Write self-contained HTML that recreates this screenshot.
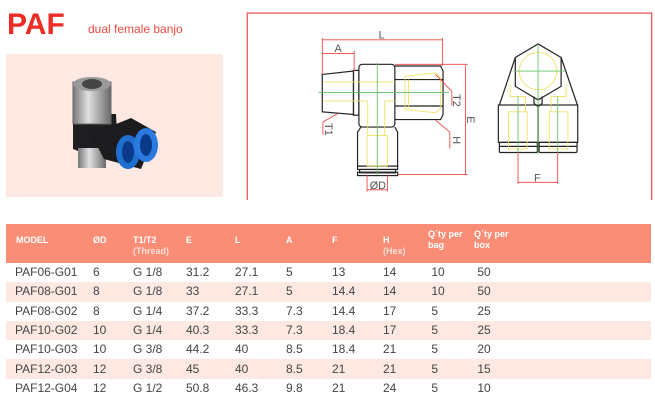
<!DOCTYPE html>
<html><head><meta charset="utf-8"><style>
body{margin:0;width:655px;height:412px;background:#fff;position:relative;overflow:hidden;font-family:"Liberation Sans",sans-serif}
.t{position:absolute;left:7px;top:10px;font-size:30px;line-height:1;font-weight:bold;color:#ee2b24}
.s{position:absolute;left:88px;top:23px;font-size:12px;line-height:1;color:#ee4a40}
.photo{position:absolute;left:6px;top:54px;width:217px;height:143px;background:#fde8e2}
table{position:absolute;left:6px;top:224px;width:645px;border-collapse:collapse;table-layout:fixed}
th{background:#f98d76;color:#fff;font-size:9px;font-weight:bold;text-align:left;vertical-align:top;padding:11px 0 0 0;height:28px;line-height:11px}
th span{color:#fde0d8;font-weight:bold}
td{font-size:12px;color:#444;height:19.3px;padding:0;line-height:19px}
tr.z td{background:#fde8e2}
</style></head><body>
<div class="t">PAF</div><div class="s">dual female banjo</div>
<div class="photo">
<svg width="217" height="143" viewBox="0 0 217 143">
<defs><linearGradient id="m" x1="0" x2="1"><stop offset="0" stop-color="#777"/><stop offset=".4" stop-color="#e0e0e0"/><stop offset="1" stop-color="#6a6a6a"/></linearGradient></defs>
<path d="M67 60 L110 60 L112 100 L80 100 L67 95Z" fill="#1e1e22"/>
<rect x="72" y="94" width="28" height="20" fill="url(#m)"/>
<path d="M67 28 L105 28 L105 70 L67 70Z" fill="url(#m)" stroke="#666"/>
<ellipse cx="86" cy="30" rx="19" ry="7" fill="#9a9a9a"/>
<ellipse cx="86" cy="30" rx="10" ry="5" fill="#444"/>
<path d="M85 80 L125 64 L150 78 L135 115 L98 105Z" fill="#1c1c1e"/>
<ellipse cx="122" cy="98" rx="12" ry="17" fill="#1f6fd0"/>
<ellipse cx="122" cy="98" rx="6" ry="11" fill="#0a3b8a"/>
<ellipse cx="140" cy="91" rx="12" ry="17" fill="#2a7ae0"/>
<ellipse cx="140" cy="91" rx="6" ry="11" fill="#0a3b8a"/>
</svg></div>
<svg style="position:absolute;left:245px;top:10px" width="410" height="190" viewBox="0 0 1205 560" fill="none" stroke-width="3.5">
<rect x="5" y="9" width="1192" height="557" stroke="#f06060" stroke-width="4"/>
<g stroke="#222">
<path d="M226 190 L318 180 L318 308 L226 300Z"/>
<rect x="318" y="178" width="16" height="132"/>
<rect x="334" y="160" width="106" height="185" rx="10"/>
<path d="M440 165 L575 165 L582 180 L582 308 L575 323 L440 323"/>
<line x1="440" y1="205" x2="582" y2="205"/><line x1="440" y1="283" x2="582" y2="283"/>
<path d="M340 345 L330 360 L330 460 L448 460 L448 360 L440 345"/>
<rect x="330" y="460" width="118" height="10"/><rect x="336" y="470" width="106" height="10"/><rect x="330" y="478" width="118" height="10"/>
<polygon points="862,100 930,140 930,225 862,265 795,225 795,140"/>
<path d="M795 140 L748 280 M930 140 L978 280"/>
<rect x="745" y="280" width="117" height="110"/><rect x="862" y="280" width="117" height="110"/>
<rect x="748" y="390" width="112" height="30" rx="4"/><rect x="865" y="390" width="112" height="30" rx="4"/>
<line x1="748" y1="402" x2="978" y2="402"/>
<path d="M850 255 L850 275 L862 285 L874 275 L874 255"/>
</g>
<g stroke="#f0e060" stroke-width="2.5">
<path d="M230 212 L440 212 M230 268 L360 268 L360 370 M440 268 L410 268 L410 370 M360 370 L418 370 L418 460 L358 460 L358 370"/>
<path d="M470 195 L560 185 L575 200 L575 290 L560 303 L470 293Z M480 205 L480 290"/>
<circle cx="862" cy="180" r="55"/>
<path d="M780 220 L780 255 L825 255 L825 300 M945 220 L945 255 L900 255 L900 300 M775 300 L830 300 L830 410 L775 410Z M895 300 L950 300 L950 410 L895 410Z"/>
</g>
<g stroke="#5fc060" stroke-width="2.5">
<line x1="215" y1="243" x2="600" y2="243"/><line x1="388" y1="155" x2="388" y2="485"/>
<line x1="862" y1="100" x2="862" y2="425"/><line x1="790" y1="180" x2="940" y2="180"/>
<line x1="803" y1="255" x2="803" y2="420"/><line x1="920" y1="255" x2="920" y2="420"/>
</g>
<g stroke="#f04040" stroke-width="2.5">
<path d="M226 82 L226 190 M580 82 L580 165 M226 88 L580 88 M226 128 L320 128 M320 120 L320 180"/>
<path d="M440 160 L655 160 M448 485 L655 485 M648 163 L648 485"/>
<path d="M358 485 L358 535 M418 485 L418 535 M358 530 L418 530"/>
<path d="M803 420 L803 512 M920 420 L920 512 M803 508 L920 508"/>
<path d="M272 305 L228 330 L228 368 M560 190 L608 240 L608 282 M560 325 L602 360 L602 408"/>
</g>
<g fill="#555" font-family="Liberation Sans" font-size="32">
<text x="392" y="84">L</text><text x="262" y="124">A</text>
<text x="366" y="528">ØD</text><text x="850" y="505">F</text>
<text transform="translate(612,248) rotate(90)">T2</text>
<text transform="translate(652,313) rotate(90)">E</text>
<text transform="translate(612,372) rotate(90)">H</text>
<text transform="translate(234,333) rotate(90)">T1</text>
</g>
</svg>
<table>
<colgroup><col style="width:87px"><col style="width:40px"><col style="width:53px"><col style="width:49px"><col style="width:51px"><col style="width:46px"><col style="width:51px"><col style="width:45px"><col style="width:46px"><col></colgroup>
<tr><th style="padding-left:10px">MODEL</th><th>ØD</th><th>T1/T2<br><span>(Thread)</span></th><th>E</th><th>L</th><th>A</th><th>F</th><th>H<br><span>(Hex)</span></th><th style="padding-top:5px">Q´ty per<br>bag</th><th style="padding-top:5px">Q´ty per<br>box</th></tr>
<tr><td style="padding-left:9px">PAF06-G01</td><td>6</td><td>G 1/8</td><td>31.2</td><td>27.1</td><td>5</td><td>13</td><td>14</td><td>&nbsp;10</td><td>&nbsp;50</td></tr>
<tr class="z"><td style="padding-left:9px">PAF08-G01</td><td>8</td><td>G 1/8</td><td>33</td><td>27.1</td><td>5</td><td>14.4</td><td>14</td><td>&nbsp;10</td><td>&nbsp;50</td></tr>
<tr><td style="padding-left:9px">PAF08-G02</td><td>8</td><td>G 1/4</td><td>37.2</td><td>33.3</td><td>7.3</td><td>14.4</td><td>17</td><td>&nbsp;5</td><td>&nbsp;25</td></tr>
<tr class="z"><td style="padding-left:9px">PAF10-G02</td><td>10</td><td>G 1/4</td><td>40.3</td><td>33.3</td><td>7.3</td><td>18.4</td><td>17</td><td>&nbsp;5</td><td>&nbsp;25</td></tr>
<tr><td style="padding-left:9px">PAF10-G03</td><td>10</td><td>G 3/8</td><td>44.2</td><td>40</td><td>8.5</td><td>18.4</td><td>21</td><td>&nbsp;5</td><td>&nbsp;20</td></tr>
<tr class="z"><td style="padding-left:9px">PAF12-G03</td><td>12</td><td>G 3/8</td><td>45</td><td>40</td><td>8.5</td><td>21</td><td>21</td><td>&nbsp;5</td><td>&nbsp;15</td></tr>
<tr><td style="padding-left:9px">PAF12-G04</td><td>12</td><td>G 1/2</td><td>50.8</td><td>46.3</td><td>9.8</td><td>21</td><td>24</td><td>&nbsp;5</td><td>&nbsp;10</td></tr>
</table>
</body></html>
